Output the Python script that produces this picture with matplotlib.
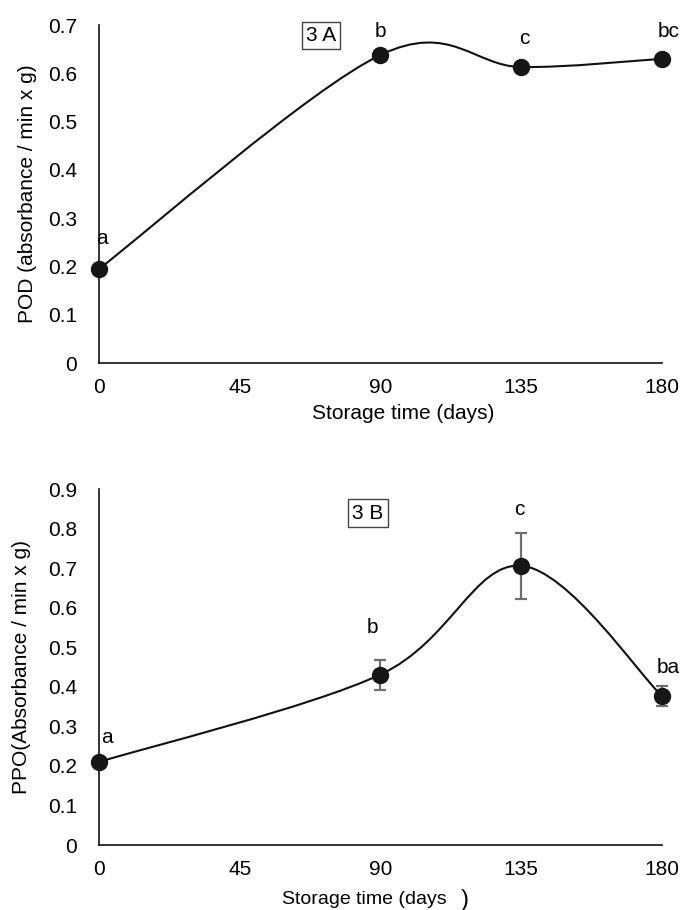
import matplotlib
matplotlib.use("Agg")
import matplotlib.pyplot as plt
from matplotlib.path import Path
from matplotlib.patches import PathPatch

plt.rcParams['font.family'] = ['Liberation Sans', 'DejaVu Sans']

days = [0, 90, 135, 180]
xticks = [0, 45, 90, 135, 180]

pod = [0.195, 0.638, 0.613, 0.630]
pod_letters = ['a', 'b', 'c', 'bc']

ppo = [0.210, 0.431, 0.706, 0.377]
ppo_err = [0.0, 0.038, 0.084, 0.025]
ppo_letters = ['a', 'b', 'c', 'ba']

FS = 15


def smooth_path(xs, ys):
    # excel style smoothed line: cubic bezier, control points from neighbours / 6
    n = len(xs)
    verts = [(xs[0], ys[0])]
    codes = [Path.MOVETO]
    for i in range(n - 1):
        p0 = max(i - 1, 0)
        p3 = min(i + 2, n - 1)
        c1 = (xs[i] + (xs[i + 1] - xs[p0]) / 6, ys[i] + (ys[i + 1] - ys[p0]) / 6)
        c2 = (xs[i + 1] - (xs[p3] - xs[i]) / 6, ys[i + 1] - (ys[p3] - ys[i]) / 6)
        verts += [c1, c2, (xs[i + 1], ys[i + 1])]
        codes += [Path.CURVE4] * 3
    return Path(verts, codes)


def panel(ax, ys, ymax, letters, letter_pos, ylabel, tag, tag_pos, err=None):
    ax.add_patch(PathPatch(smooth_path(days, ys), fill=False, lw=1.5,
                           edgecolor='#111111', clip_on=False, zorder=2))
    if err is not None:
        ax.errorbar(days, ys, yerr=err, fmt='none', ecolor='#6e6e6e',
                    elinewidth=1.6, capsize=4.5, capthick=1.6, zorder=3,
                    clip_on=False)
    ax.plot(days, ys, 'o', ms=11.5, color='#161616', zorder=4, clip_on=False)
    for lab, (lx, ly) in zip(letters, letter_pos):
        ax.text(lx, ly, lab, ha='center', va='center', fontsize=FS)
    ax.text(tag_pos[0], tag_pos[1], tag, ha='center', va='center', fontsize=FS,
            bbox=dict(boxstyle='square,pad=0.2', fc='white', ec='#444444', lw=1))
    ax.set_xlim(0, 180)
    ax.set_ylim(0, ymax)
    ax.set_xticks(xticks)
    nt = int(round(ymax * 10))
    ax.set_yticks([round(0.1 * k, 1) for k in range(nt + 1)])
    ax.set_yticklabels(['0'] + ['%.1f' % (0.1 * k) for k in range(1, nt + 1)])
    ax.tick_params(length=0, labelsize=FS)
    ax.tick_params(axis='x', pad=11)
    ax.tick_params(axis='y', pad=16)
    for s in ['top', 'right']:
        ax.spines[s].set_visible(False)
    for s in ['left', 'bottom']:
        ax.spines[s].set_linewidth(1.2)
        ax.spines[s].set_color('#111111')
    ax.set_ylabel(ylabel, fontsize=FS)


fig = plt.figure(figsize=(6.81, 9.10), dpi=100)
ax1 = fig.add_axes([0.1454, 0.601, 0.8266, 0.3715])
ax2 = fig.add_axes([0.1454, 0.0714, 0.8266, 0.3912])

panel(ax1, pod, 0.7, pod_letters,
      [(1, 0.257), (90, 0.686), (136, 0.673), (182, 0.686)],
      'POD (absorbance / min x g)', '3 A', (71, 0.679))
ax1.yaxis.set_label_coords(-0.111, 0.5)
ax1.set_xlabel('Storage time (days)', fontsize=FS)
ax1.xaxis.set_label_coords(0.54, -0.12)

panel(ax2, ppo, 0.9, ppo_letters,
      [(2.5, 0.273), (87.5, 0.551), (134.5, 0.847), (182, 0.45)],
      'PPO(Absorbance / min x g)', '3 B', (86, 0.839), err=ppo_err)
ax2.yaxis.set_label_coords(-0.12, 0.5)
ax2.set_xlabel('Storage time (days', fontsize=14)
ax2.xaxis.set_label_coords(0.472, -0.13)
ax2.text(0.65, -0.155, ')', transform=ax2.transAxes, fontsize=17,
         ha='center', va='center')

fig.savefig('out.png', dpi=100)
